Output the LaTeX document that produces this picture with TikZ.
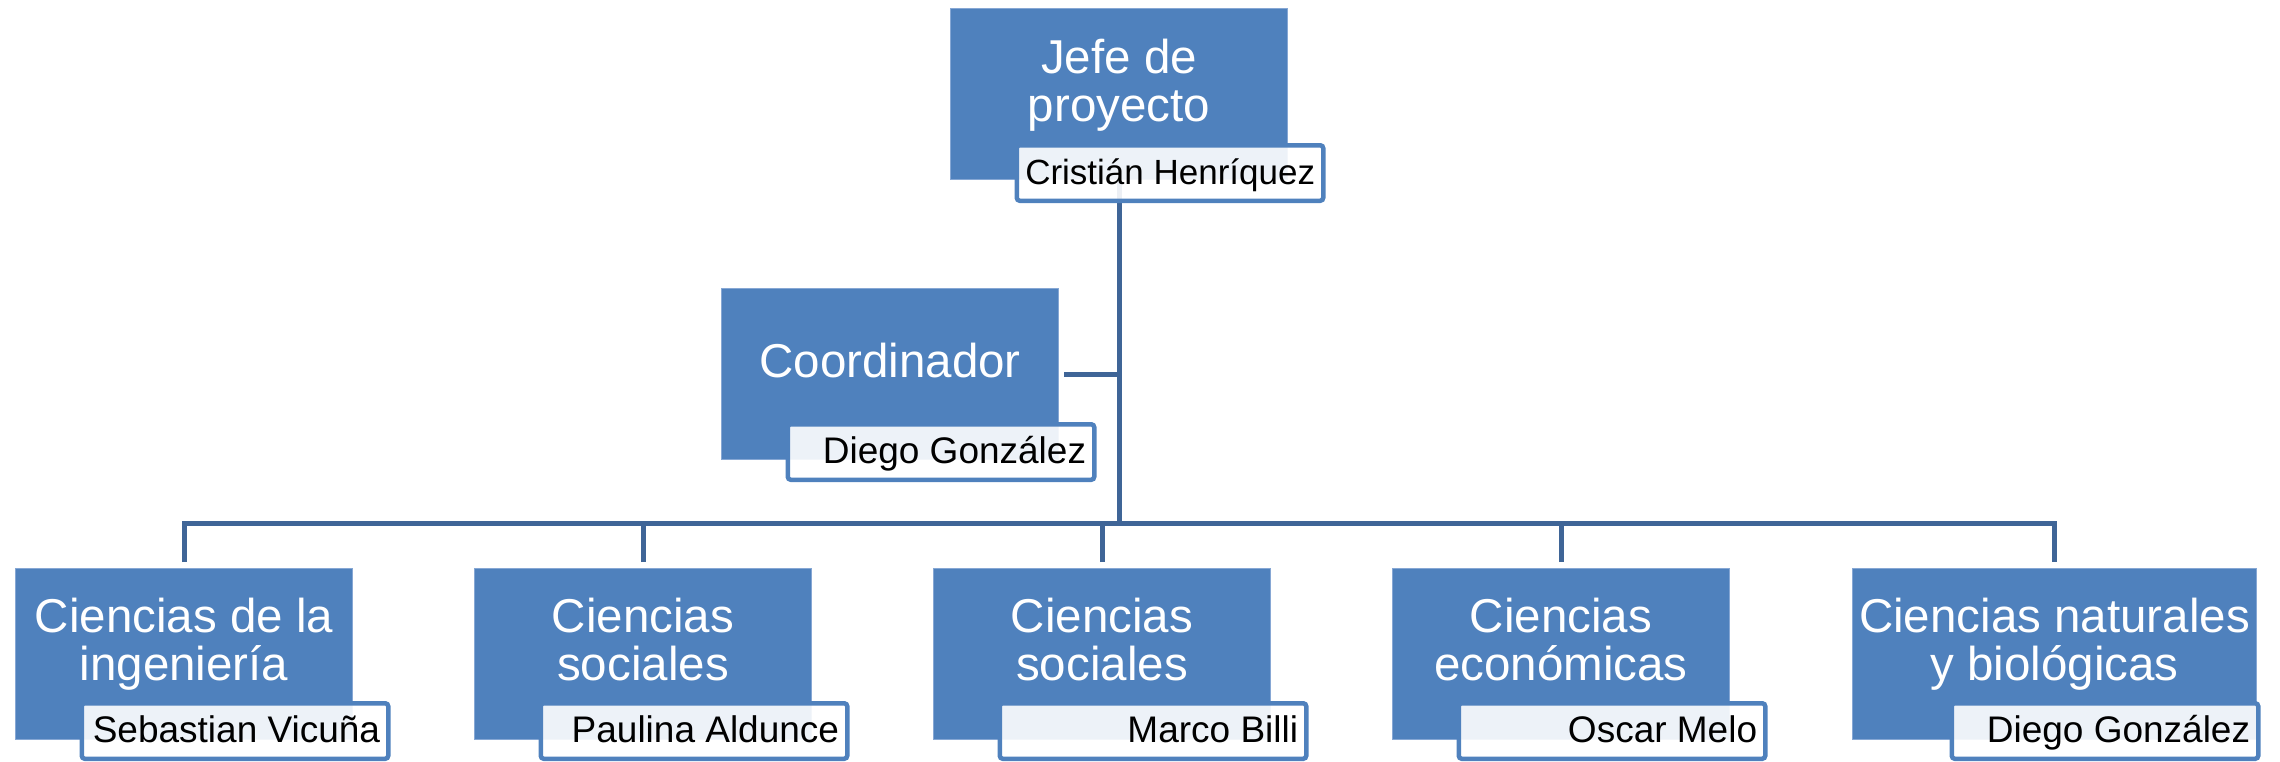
\documentclass[tikz,border=0pt]{standalone}
\usepackage{fontspec}
\setmainfont{Liberation Sans}
\definecolor{boxblue}{HTML}{4F81BD}
\definecolor{edgeblue}{HTML}{86A7D4}
\definecolor{connblue}{HTML}{3F6597}
\begin{document}
\begin{tikzpicture}[x=0.5pt,y=0.5pt,
  bluebox/.style={fill=boxblue, draw=edgeblue, line width=0.5pt, inner sep=0pt,
    minimum width=168.5pt, minimum height=85.5pt, anchor=north west},
  namebox/.style={fill=white, fill opacity=0.9, draw=boxblue, line width=2.25pt,
    rounded corners=1.5pt, inner sep=0pt, minimum width=153.25pt, minimum height=27.75pt},
  titletext/.style={anchor=base, inner sep=0pt, text=white,
    font=\fontsize{23.75}{24}\selectfont},
  nametext/.style={anchor=base east, inner sep=0pt, text=black,
    font=\fontsize{18.5}{20}\selectfont},
  conn/.style={draw=connblue, line width=2.5pt}
]
\useasboundingbox (0,0) rectangle (2280,-761);

% blue boxes
\node[bluebox] (jefe) at (950,-8) {};
\node[bluebox] (coord) at (721,-288) {};
\node[bluebox] (c1) at (15,-568) {};
\node[bluebox] (c2) at (474,-568) {};
\node[bluebox] (c3) at (933,-568) {};
\node[bluebox] (c4) at (1392,-568) {};
\node[bluebox, minimum width=202pt] (c5) at (1852,-568) {};

% titles
\node[titletext] (jefeT) at ([yshift=-32.5pt]jefe.north) {\parbox[t]{210pt}{\centering Jefe de\\proyecto}};
\node[titletext] (coordT) at ([yshift=-44.5pt]coord.north) {\parbox[t]{210pt}{\centering Coordinador}};
\node[titletext] (c1T) at ([yshift=-32pt]c1.north) {\parbox[t]{210pt}{\centering Ciencias de la\\ingeniería}};
\node[titletext] (c2T) at ([yshift=-32pt]c2.north) {\parbox[t]{210pt}{\centering Ciencias\\sociales}};
\node[titletext] (c3T) at ([yshift=-32pt]c3.north) {\parbox[t]{210pt}{\centering Ciencias\\sociales}};
\node[titletext] (c4T) at ([yshift=-32pt]c4.north) {\parbox[t]{210pt}{\centering Ciencias\\económicas}};
\node[titletext] (c5T) at ([yshift=-32pt]c5.north) {\parbox[t]{210pt}{\centering Ciencias naturales\\y biológicas}};

% connectors
\coordinate (bus) at (0,-523);
\draw[conn] (jefe.south) -- (jefe.south |- bus);
\draw[conn] ([xshift=2.5pt]coord.east) -- (coord.east -| jefe.south);
\draw[conn] ([yshift=3pt]c1.north) -- (c1.north |- bus) -- (c5.north |- bus) -- ([yshift=3pt]c5.north);
\foreach \n in {c2,c3,c4} \draw[conn] ([yshift=3pt]\n.north) -- (\n.north |- bus);

% name boxes
\node[namebox] (jefeN) at (1170,-173) {};
\node[namebox] (coordN) at (941,-452) {};
\node[namebox] (c1N) at (235,-731) {};
\node[namebox] (c2N) at (694,-731) {};
\node[namebox] (c3N) at (1153,-731) {};
\node[namebox] (c4N) at (1612,-731) {};
\node[namebox] (c5N) at (2105,-731) {};

% names
\node[nametext, font=\fontsize{17.5}{20}\selectfont] (jefeNT) at ([xshift=-5pt,yshift=-5.5pt]jefeN.east) {Cristián Henríquez};
\node[nametext] (coordNT) at ([xshift=-5pt,yshift=-5.5pt]coordN.east) {Diego González};
\node[nametext] (c1NT) at ([xshift=-5pt,yshift=-5.5pt]c1N.east) {Sebastian Vicuña};
\node[nametext] (c2NT) at ([xshift=-5pt,yshift=-5.5pt]c2N.east) {Paulina Aldunce};
\node[nametext] (c3NT) at ([xshift=-5pt,yshift=-5.5pt]c3N.east) {Marco Billi};
\node[nametext] (c4NT) at ([xshift=-5pt,yshift=-5.5pt]c4N.east) {Oscar Melo};
\node[nametext] (c5NT) at ([xshift=-5pt,yshift=-5.5pt]c5N.east) {Diego González};
\end{tikzpicture}
\end{document}
